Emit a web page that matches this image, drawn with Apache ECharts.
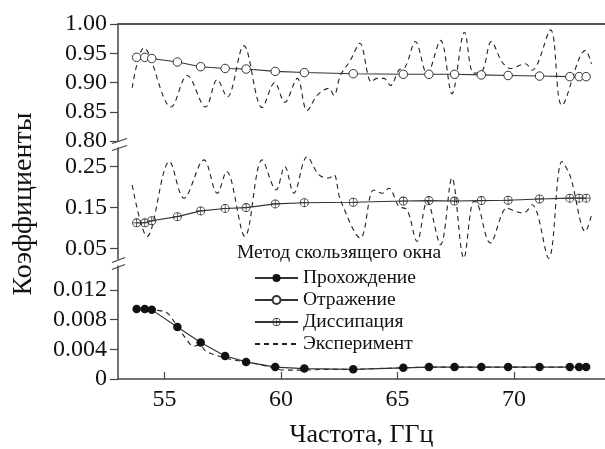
<!DOCTYPE html>
<html>
<head>
<meta charset="utf-8">
<script src="https://cdn.jsdelivr.net/npm/echarts@6/dist/echarts.min.js"></script>
<style>
html,body{margin:0;padding:0;background:#fff;}
#chart{width:605px;height:449px;}
</style>
</head>
<body>
<div id="chart"></div>
<script>
// Frequencies (GHz) of the sliding-window method points
const freqs = [53.8, 54.15, 54.45, 55.55, 56.55, 57.6, 58.5, 59.75, 61.0, 63.1, 65.25, 66.35, 67.45, 68.6, 69.75, 71.1, 72.4, 72.8, 73.1];
// Method values
const reflection   = [0.943, 0.943, 0.941, 0.935, 0.927, 0.924, 0.923, 0.919, 0.917, 0.915, 0.914, 0.914, 0.914, 0.913, 0.912, 0.911, 0.910, 0.910, 0.910];
const dissipation  = [0.113, 0.113, 0.118, 0.128, 0.142, 0.148, 0.150, 0.159, 0.162, 0.163, 0.166, 0.167, 0.166, 0.167, 0.168, 0.171, 0.173, 0.173, 0.173];
const transmission = [0.0094, 0.0094, 0.0093, 0.0070, 0.0049, 0.0031, 0.0023, 0.0016, 0.0014, 0.0013, 0.0015, 0.0016, 0.0016, 0.0016, 0.0016, 0.0016, 0.0016, 0.0016, 0.0016];

// Experiment curves
const expReflF = [53.61, 54.11, 55.28, 55.97, 56.76, 57.26, 57.69, 58.40, 59.19, 59.73, 60.16, 60.70, 61.12, 61.55, 62.05, 62.27, 62.55, 62.98, 63.38, 63.88, 64.12, 64.41, 64.70, 65.06, 65.34, 65.77, 66.27, 66.85, 67.34, 67.88, 68.27, 68.63, 69.03, 69.49, 69.85, 70.49, 70.78, 71.57, 72.06, 73.07, 73.33];
const expReflV = [0.891, 0.959, 0.858, 0.912, 0.858, 0.905, 0.875, 0.963, 0.857, 0.900, 0.866, 0.907, 0.852, 0.878, 0.890, 0.878, 0.912, 0.938, 0.967, 0.901, 0.907, 0.907, 0.895, 0.921, 0.927, 0.970, 0.915, 0.972, 0.881, 0.986, 0.916, 0.919, 0.970, 0.935, 0.924, 0.932, 0.921, 0.990, 0.861, 0.955, 0.932];

const expDissF = [53.61, 54.25, 55.21, 55.83, 56.69, 57.26, 57.66, 58.45, 59.19, 59.79, 60.16, 60.55, 61.12, 61.62, 62.05, 62.27, 62.55, 63.41, 63.98, 64.35, 64.63, 65.06, 65.41, 65.84, 66.27, 66.85, 67.34, 67.85, 68.27, 68.41, 68.99, 69.70, 70.06, 70.42, 70.78, 71.49, 72.06, 72.42, 73.07, 73.33];
const expDissV = [0.205, 0.080, 0.262, 0.173, 0.266, 0.185, 0.238, 0.080, 0.266, 0.193, 0.250, 0.185, 0.274, 0.230, 0.222, 0.230, 0.169, 0.076, 0.193, 0.185, 0.197, 0.153, 0.145, 0.068, 0.165, 0.060, 0.222, 0.027, 0.165, 0.163, 0.064, 0.149, 0.141, 0.137, 0.157, 0.027, 0.262, 0.226, 0.092, 0.132];

const expTransF = [54.3, 55.05, 55.35, 55.55, 55.9, 56.25, 56.5, 56.75, 57.1, 57.9, 58.5, 59.3, 60.15, 61.0, 62.0, 63.1, 64.0, 65.25, 66.35, 67.5, 68.6, 69.75, 71.1, 72.4, 73.3];
const expTransV = [0.0093, 0.0090, 0.0080, 0.0071, 0.0055, 0.0044, 0.0046, 0.0038, 0.0033, 0.0026, 0.0023, 0.0018, 0.0012, 0.0012, 0.0013, 0.0013, 0.0014, 0.0015, 0.0016, 0.0016, 0.0016, 0.0016, 0.0016, 0.0016, 0.0016];

// Tick labels
const xTicks = [55, 60, 65, 70];
const yTicksTop = [0.80, 0.85, 0.90, 0.95, 1.00];
const yTicksMid = [0.05, 0.15, 0.25];
const yTicksBot = [0, 0.004, 0.008, 0.012];

const names = ['Прохождение', 'Отражение', 'Диссипация', 'Эксперимент'];
const legendTitle = 'Метод скользящего окна';
const xTitle = 'Частота, ГГц';
const yTitle = 'Коэффициенты';

const zip = (a, b) => a.map((v, i) => [v, b[i]]);
const FONT = "'Liberation Serif','Times New Roman',serif";
const AX = '#444';
const LN = '#333';

const crossCircle = 'path://M10 0A10 10 0 1 1 10 20A10 10 0 1 1 10 0Z M10 1.9A8.1 8.1 0 1 0 10 18.1A8.1 8.1 0 1 0 10 1.9Z M1.5 9.2H18.5V10.8H1.5Z M9.2 1.5H10.8V18.5H9.2Z';

const X_MIN = 53, X_MAX = 73.91;
const grids = [
  {left: 118, top: 24, width: 487, height: 117},
  {left: 118, top: 148, width: 487, height: 111},
  {left: 118, top: 266, width: 487, height: 118}
];

function yAxis(idx, min, max, ticks, fmt) {
  return {
    type: 'value', gridIndex: idx, min: min, max: max,
    axisLine: {show: true, lineStyle: {color: AX, width: 1.5}},
    axisTick: {show: true, inside: false, length: 8, customValues: ticks, lineStyle: {color: AX, width: 1.2}},
    axisLabel: {customValues: ticks, formatter: fmt, margin: 11, fontFamily: FONT, fontSize: 24, color: '#111'},
    splitLine: {show: false}
  };
}

const option = {
  animation: false,
  backgroundColor: '#fff',
  grid: grids,
  xAxis: [
    {type: 'value', gridIndex: 0, min: X_MIN, max: X_MAX, position: 'top',
     axisLine: {show: true, lineStyle: {color: '#555', width: 2}}, axisTick: {show: false}, axisLabel: {show: false}, splitLine: {show: false}},
    {type: 'value', gridIndex: 1, min: X_MIN, max: X_MAX, show: false},
    {type: 'value', gridIndex: 2, min: X_MIN, max: X_MAX, position: 'bottom',
     axisLine: {show: true, lineStyle: {color: AX, width: 1.5}},
     axisTick: {show: true, inside: true, length: 7, customValues: xTicks, lineStyle: {color: AX, width: 1.2}},
     axisLabel: {customValues: xTicks, margin: 9, fontFamily: FONT, fontSize: 24, color: '#111'},
     splitLine: {show: false},
     name: xTitle, nameLocation: 'middle', nameGap: 43,
     nameTextStyle: {fontFamily: FONT, fontSize: 26, color: '#111'}}
  ],
  yAxis: [
    yAxis(0, 0.80, 1.00, yTicksTop, v => v.toFixed(2)),
    yAxis(1, 0.025, 0.295, yTicksMid, v => v.toFixed(2)),
    yAxis(2, 0, 0.0152, yTicksBot, v => v === 0 ? '0' : v.toFixed(3))
  ],
  legend: {
    orient: 'vertical', left: 254, top: 268, padding: 0,
    data: names,
    itemWidth: 43, itemHeight: 10, itemGap: 2,
    textStyle: {fontFamily: FONT, fontSize: 19.5, color: '#111', lineHeight: 20}
  },
  graphic: [
    {type: 'text', left: 237, top: 243, style: {text: legendTitle, font: '19.5px ' + FONT, fill: '#111'}},
    {type: 'text', x: 24, y: 204, rotation: Math.PI / 2,
     style: {text: yTitle, font: '28px ' + FONT, fill: '#111', align: 'center', verticalAlign: 'middle'}},
    // axis break marks
    {type: 'line', shape: {x1: 112, y1: 143.5, x2: 127, y2: 138.5}, style: {stroke: AX, lineWidth: 1.3}},
    {type: 'line', shape: {x1: 112, y1: 150.5, x2: 127, y2: 145.5}, style: {stroke: AX, lineWidth: 1.3}},
    {type: 'line', shape: {x1: 112, y1: 262.5, x2: 125, y2: 257.5}, style: {stroke: AX, lineWidth: 1.3}},
    {type: 'line', shape: {x1: 112, y1: 269.5, x2: 125, y2: 264.5}, style: {stroke: AX, lineWidth: 1.3}}
  ],
  series: [
    {name: names[3], type: 'line', xAxisIndex: 0, yAxisIndex: 0, data: zip(expReflF, expReflV),
     symbol: 'none', smooth: 0.35, lineStyle: {color: '#222', width: 1.1, type: [5, 4]},
     itemStyle: {color: 'rgba(0,0,0,0)', borderWidth: 0}, z: 1},
    {name: names[3], type: 'line', xAxisIndex: 1, yAxisIndex: 1, data: zip(expDissF, expDissV),
     symbol: 'none', smooth: 0.35, lineStyle: {color: '#222', width: 1.1, type: [5, 4]},
     itemStyle: {color: 'rgba(0,0,0,0)', borderWidth: 0}, z: 1},
    {name: names[3], type: 'line', xAxisIndex: 2, yAxisIndex: 2, data: zip(expTransF, expTransV),
     symbol: 'none', smooth: 0.35, lineStyle: {color: '#222', width: 1.1, type: [5, 4]},
     itemStyle: {color: 'rgba(0,0,0,0)', borderWidth: 0}, z: 1},
    {name: names[1], type: 'line', xAxisIndex: 0, yAxisIndex: 0, data: zip(freqs, reflection),
     symbol: 'circle', symbolSize: 8.5, lineStyle: {color: LN, width: 1.1},
     itemStyle: {color: '#fff', borderColor: LN, borderWidth: 1}, z: 3},
    {name: names[2], type: 'line', xAxisIndex: 1, yAxisIndex: 1, data: zip(freqs, dissipation),
     symbol: crossCircle, symbolSize: 9, symbolKeepAspect: true, lineStyle: {color: LN, width: 1.1},
     itemStyle: {color: LN, borderWidth: 0}, z: 3},
    {name: names[0], type: 'line', xAxisIndex: 2, yAxisIndex: 2, data: zip(freqs, transmission),
     symbol: 'circle', symbolSize: 8.5, lineStyle: {color: LN, width: 1.1},
     itemStyle: {color: '#111', borderWidth: 0}, z: 3}
  ]
};

const chart = echarts.init(document.getElementById('chart'), null, {renderer: 'canvas'});
chart.setOption(option);
</script>
</body>
</html>
